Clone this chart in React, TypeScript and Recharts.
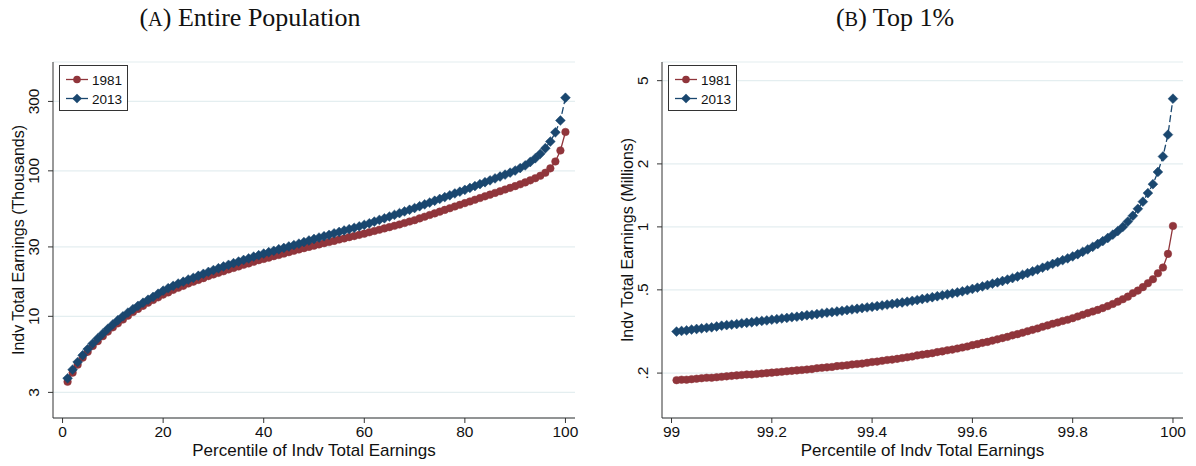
import React from 'react';
import { LineChart, Line, XAxis, YAxis, CartesianGrid } from 'recharts';

// Percentile thresholds of individual total earnings, whole population (thousands)
const PCT_ALL = Array.from({ length: 100 }, (_, i) => i + 1);

const EARN_1981_ALL = [
  3.55, 4.1, 4.65, 5.2, 5.7, 6.25, 6.75, 7.3, 7.85, 8.4,
  8.95, 9.5, 10.1, 10.7, 11.25, 11.8, 12.4, 12.95, 13.5, 14.1,
  14.6, 15.2, 15.7, 16.2, 16.8, 17.3, 17.8, 18.3, 18.9, 19.4,
  19.9, 20.4, 21.0, 21.5, 22.0, 22.6, 23.1, 23.7, 24.3, 24.8,
  25.3, 25.9, 26.4, 27.0, 27.6, 28.2, 28.8, 29.4, 30.0, 30.6,
  31.2, 31.8, 32.4, 33.0, 33.7, 34.3, 35.0, 35.6, 36.3, 37.0,
  37.8, 38.6, 39.4, 40.2, 41.0, 41.9, 42.8, 43.8, 44.8, 45.8,
  47.1, 48.4, 49.7, 51.0, 52.4, 53.9, 55.3, 56.9, 58.4, 60.0,
  61.6, 63.3, 65.0, 66.8, 68.6, 70.5, 72.4, 74.4, 76.4, 78.5,
  80.8, 83.3, 86.0, 89.0, 92.5, 97, 104, 116, 138, 185,
];

const EARN_2013_ALL = [
  3.75, 4.3, 4.85, 5.4, 5.95, 6.5, 7.05, 7.6, 8.2, 8.8,
  9.4, 10.0, 10.6, 11.2, 11.8, 12.4, 13.0, 13.6, 14.3, 15.0,
  15.6, 16.2, 16.8, 17.3, 17.9, 18.4, 19.0, 19.6, 20.2, 20.8,
  21.4, 22.0, 22.6, 23.2, 23.8, 24.4, 25.0, 25.7, 26.3, 27.0,
  27.6, 28.2, 28.9, 29.5, 30.2, 30.9, 31.6, 32.4, 33.2, 34.0,
  34.8, 35.5, 36.3, 37.2, 38.0, 38.9, 39.7, 40.6, 41.5, 42.5,
  43.6, 44.8, 46.0, 47.2, 48.5, 49.8, 51.2, 52.6, 54.0, 55.5,
  57.1, 58.8, 60.5, 62.3, 64.1, 66.0, 67.9, 69.9, 71.9, 74.0,
  76.3, 78.6, 81.0, 83.5, 86.0, 88.7, 91.4, 94.2, 97.2, 100.5,
  104.5, 109, 115, 122, 131, 143, 159, 184, 222, 318,
];

// Top 1%, in steps of 0.01 percentile (millions)
const PCT_TOP = Array.from({ length: 100 }, (_, i) => +(99.01 + i * 0.01).toFixed(2));

const EARN_1981_TOP = [
  0.185, 0.186, 0.186, 0.187, 0.188, 0.189, 0.19, 0.19, 0.191, 0.192,
  0.193, 0.194, 0.195, 0.196, 0.197, 0.197, 0.198, 0.199, 0.2, 0.201,
  0.202, 0.203, 0.204, 0.205, 0.206, 0.207, 0.208, 0.209, 0.211, 0.212,
  0.213, 0.214, 0.216, 0.217, 0.218, 0.22, 0.221, 0.222, 0.224, 0.226,
  0.227, 0.229, 0.231, 0.232, 0.234, 0.236, 0.238, 0.24, 0.243, 0.245,
  0.247, 0.249, 0.252, 0.254, 0.257, 0.259, 0.262, 0.265, 0.268, 0.272,
  0.275, 0.279, 0.282, 0.286, 0.29, 0.294, 0.298, 0.303, 0.307, 0.312,
  0.317, 0.322, 0.327, 0.333, 0.338, 0.344, 0.349, 0.355, 0.36, 0.366,
  0.373, 0.38, 0.387, 0.394, 0.401, 0.409, 0.418, 0.428, 0.439, 0.451,
  0.464, 0.482, 0.496, 0.515, 0.538, 0.562, 0.6, 0.639, 0.743, 1.01,
];

const EARN_2013_TOP = [
  0.316, 0.318, 0.32, 0.323, 0.325, 0.327, 0.329, 0.331, 0.334, 0.337,
  0.339, 0.341, 0.343, 0.346, 0.348, 0.35, 0.353, 0.355, 0.357, 0.36,
  0.362, 0.365, 0.367, 0.37, 0.372, 0.375, 0.378, 0.38, 0.383, 0.386,
  0.389, 0.391, 0.394, 0.397, 0.4, 0.403, 0.406, 0.409, 0.412, 0.415,
  0.418, 0.421, 0.425, 0.428, 0.432, 0.435, 0.439, 0.443, 0.447, 0.452,
  0.456, 0.461, 0.466, 0.471, 0.476, 0.481, 0.486, 0.492, 0.498, 0.505,
  0.512, 0.519, 0.527, 0.535, 0.543, 0.551, 0.56, 0.569, 0.579, 0.59,
  0.601, 0.613, 0.625, 0.638, 0.651, 0.665, 0.679, 0.693, 0.707, 0.722,
  0.74, 0.76, 0.78, 0.803, 0.828, 0.855, 0.885, 0.918, 0.955, 1.0,
  1.06, 1.13, 1.22, 1.32, 1.45, 1.6, 1.83, 2.17, 2.76, 4.1,
];

const X_TICKS_ALL = [0, 20, 40, 60, 80, 100];
const Y_TICKS_ALL = [3, 10, 30, 100, 300];
const X_TICKS_TOP = [99, 99.2, 99.4, 99.6, 99.8, 100];
const Y_TICKS_TOP = [0.2, 0.5, 1, 2, 5];
const Y_LABELS_TOP: Record<number, string> = { 0.2: '.2', 0.5: '.5', 1: '1', 2: '2', 5: '5' };

const MAROON = '#90353b';
const NAVY = '#1a476f';
const AXIS = '#333';
const GRID = '#e4eef0';
const SANS = 'Arial, "Liberation Sans", Helvetica, sans-serif';
const SERIF = '"Liberation Serif", "DejaVu Serif", serif';

const allData = PCT_ALL.map((p, i) => ({ p, y1981: EARN_1981_ALL[i], y2013: EARN_2013_ALL[i] }));
const topData = PCT_TOP.map((p, i) => ({ p, y1981: EARN_1981_TOP[i], y2013: EARN_2013_TOP[i] }));

const CircleDot = (props: any) => {
  const { cx, cy, index } = props;
  if (cx == null || cy == null) return <g key={`c-${index}`} />;
  return <circle key={`c-${index}`} cx={cx} cy={cy} r={3.8} fill={MAROON} stroke={MAROON} strokeWidth={0.5} />;
};

const DiamondDot = (props: any) => {
  const { cx, cy, index } = props;
  if (cx == null || cy == null) return <g key={`d-${index}`} />;
  const r = 4.9;
  return (
    <polygon
      key={`d-${index}`}
      points={`${cx},${cy - r} ${cx + r},${cy} ${cx},${cy + r} ${cx - r},${cy}`}
      fill={NAVY}
      stroke={NAVY}
      strokeWidth={0.5}
    />
  );
};

const makeYTick = (fmt: (v: number) => string) => (props: any) => {
  const { x, y, payload } = props;
  const cx = x - 12;
  return (
    <text
      x={cx}
      y={y}
      dy="0.35em"
      transform={`rotate(-90 ${cx} ${y})`}
      textAnchor="middle"
      fontSize={15.5}
      fontFamily={SANS}
      fill="#111"
    >
      {fmt(payload.value)}
    </text>
  );
};

const yTitle = (text: string) => (props: any) => {
  const vb = props.viewBox;
  const cx = vb.x + vb.width - 35;
  const cy = vb.y + vb.height / 2;
  return (
    <text
      x={cx}
      y={cy}
      dy="0.35em"
      transform={`rotate(-90 ${cx} ${cy})`}
      textAnchor="middle"
      fontSize={16}
      fontFamily={SANS}
      fill="#111"
    >
      {text}
    </text>
  );
};

const xTitle = (text: string) => (props: any) => {
  const vb = props.viewBox;
  return (
    <text x={vb.x + vb.width / 2} y={vb.y + 38} textAnchor="middle" fontSize={17} fontFamily={SANS} fill="#111">
      {text}
    </text>
  );
};

const LegendBox = ({ left, top }: { left: number; top: number }) => (
  <div
    style={{
      position: 'absolute',
      left,
      top,
      width: 67,
      height: 44,
      border: '1px solid #333',
      background: '#fff',
    }}
  >
    <svg width={67} height={44} style={{ display: 'block' }}>
      <line x1={6} x2={28} y1={13.5} y2={13.5} stroke={MAROON} strokeWidth={1.3} />
      <circle cx={17} cy={13.5} r={3.8} fill={MAROON} />
      <text x={32} y={18.5} fontSize={13.5} fontFamily={SANS} fill="#111">1981</text>
      <line x1={6} x2={28} y1={32.5} y2={32.5} stroke={NAVY} strokeWidth={1.3} />
      <polygon points="17,27.7 21.8,32.5 17,37.3 12.2,32.5" fill={NAVY} />
      <text x={32} y={37.5} fontSize={13.5} fontFamily={SANS} fill="#111">2013</text>
    </svg>
  </div>
);

const Title = ({ center, children }: { center: number; children: React.ReactNode }) => (
  <div
    style={{
      position: 'absolute',
      left: center - 200,
      width: 400,
      top: 2,
      textAlign: 'center',
      fontFamily: SERIF,
      fontSize: 26,
      color: '#111',
      lineHeight: '32px',
    }}
  >
    {children}
  </div>
);

export default function App() {
  return (
    <div style={{ position: 'absolute', left: 0, top: 0, width: 1196, height: 466, background: '#fff', overflow: 'hidden' }}>
      <Title center={250}>
        (<span style={{ fontSize: '0.78em' }}>A</span>) Entire Population
      </Title>
      <Title center={895}>
        (<span style={{ fontSize: '0.78em' }}>B</span>) Top 1%
      </Title>

      <div style={{ position: 'absolute', left: 0, top: 0 }}>
        <LineChart width={600} height={466} data={allData} margin={{ top: 62, right: 25, left: 0, bottom: 0 }}>
          <CartesianGrid horizontal vertical={false} stroke={GRID} strokeWidth={1.2} />
          <XAxis
            dataKey="p"
            type="number"
            domain={[-1.9, 101.9]}
            ticks={X_TICKS_ALL}
            allowDataOverflow
            height={48}
            tickSize={5}
            tickMargin={3}
            stroke={AXIS}
            tick={{ fill: '#111', fontSize: 15.5, fontFamily: SANS }}
            label={{ content: xTitle('Percentile of Indv Total Earnings') }}
          />
          <YAxis
            type="number"
            scale="log"
            domain={[2, 560]}
            ticks={Y_TICKS_ALL}
            allowDataOverflow
            width={53}
            tickSize={5}
            stroke={AXIS}
            tick={makeYTick((v) => String(v))}
            label={{ content: yTitle('Indv Total Earnings (Thousands)') }}
          />
          <Line
            dataKey="y1981"
            stroke={MAROON}
            strokeWidth={1.3}
            dot={CircleDot}
            activeDot={false}
            isAnimationActive={false}
          />
          <Line
            dataKey="y2013"
            stroke={NAVY}
            strokeWidth={1.3}
            strokeDasharray="7 3"
            dot={DiamondDot}
            activeDot={false}
            isAnimationActive={false}
          />
        </LineChart>
        <LegendBox left={59} top={65} />
      </div>

      <div style={{ position: 'absolute', left: 600, top: 0 }}>
        <LineChart width={596} height={466} data={topData} margin={{ top: 62, right: 13, left: 0, bottom: 0 }}>
          <CartesianGrid horizontal vertical={false} stroke={GRID} strokeWidth={1.2} />
          <XAxis
            dataKey="p"
            type="number"
            domain={[98.981, 100.02]}
            ticks={X_TICKS_TOP}
            allowDataOverflow
            height={48}
            tickSize={5}
            tickMargin={3}
            stroke={AXIS}
            tick={{ fill: '#111', fontSize: 15.5, fontFamily: SANS }}
            label={{ content: xTitle('Percentile of Indv Total Earnings') }}
          />
          <YAxis
            type="number"
            scale="log"
            domain={[0.122, 6.14]}
            ticks={Y_TICKS_TOP}
            allowDataOverflow
            width={62}
            tickSize={5}
            stroke={AXIS}
            tick={makeYTick((v) => Y_LABELS_TOP[v] ?? String(v))}
            label={{ content: yTitle('Indv Total Earnings (Millions)') }}
          />
          <Line
            dataKey="y1981"
            stroke={MAROON}
            strokeWidth={1.3}
            dot={CircleDot}
            activeDot={false}
            isAnimationActive={false}
          />
          <Line
            dataKey="y2013"
            stroke={NAVY}
            strokeWidth={1.3}
            strokeDasharray="7 3"
            dot={DiamondDot}
            activeDot={false}
            isAnimationActive={false}
          />
        </LineChart>
        <LegendBox left={68} top={65} />
      </div>
    </div>
  );
}
